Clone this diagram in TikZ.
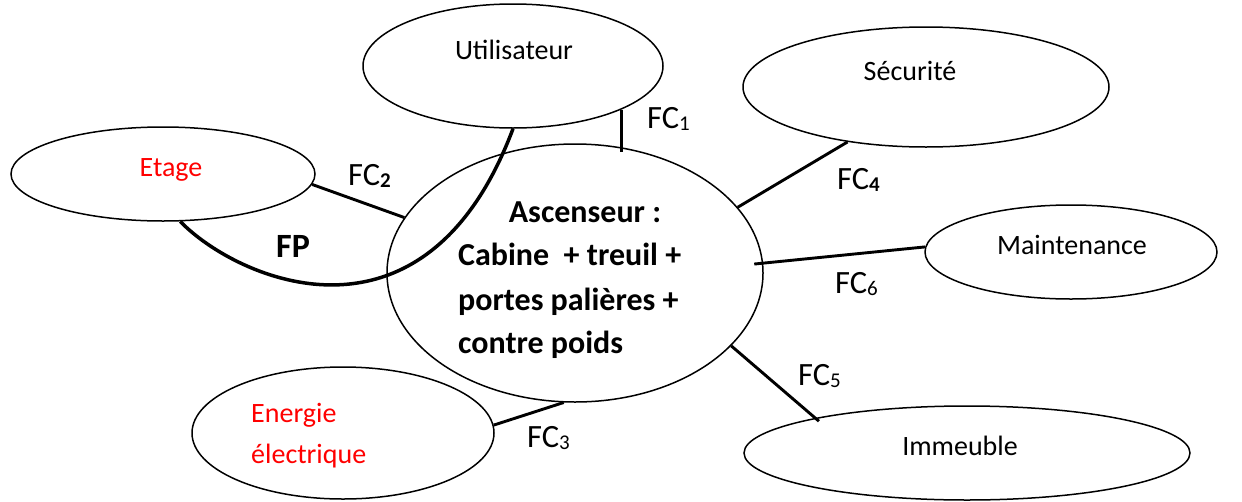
\documentclass[tikz,border=0pt]{standalone}
\usepackage{fontspec}
\setmainfont{Carlito}
\usetikzlibrary{shapes.geometric}
\tikzset{
 oval/.style={ellipse, draw, line width=1.5pt, inner sep=0pt},
 link/.style={line width=2.9pt},
 fpline/.style={line width=3.5pt},
 lbl/.style={inner sep=0pt, font=\fontsize{28}{34}\selectfont},
 fclbl/.style={inner sep=0pt, anchor=base west, font=\fontsize{32.5}{38}\selectfont},
 asc/.style={inner sep=0pt, font=\fontsize{32}{38}\selectfont\bfseries},
}
\newcommand{\fcsub}[1]{\raisebox{-2pt}{\fontsize{21}{21}\selectfont #1}}
\begin{document}
\begin{tikzpicture}[x=1pt,y=-1pt]
\useasboundingbox (0,0) rectangle (1242,501);
% ellipses
\node[oval, minimum width=300pt, minimum height=124pt] (u) at (513,66) {};
\node[oval, minimum width=376pt, minimum height=258pt] (c) at (575,273) {};
\node[oval, minimum width=304pt, minimum height=94pt] (e) at (163,174) {};
\node[oval, minimum width=366pt, minimum height=120pt] (s) at (926,87) {};
\node[oval, minimum width=292pt, minimum height=94pt] (m) at (1071,252) {};
\node[oval, minimum width=446pt, minimum height=94pt] (i) at (967,453) {};
\node[oval, minimum width=302pt, minimum height=132pt] (g) at (343,433) {};
% connectors
\draw[link, shorten >=-5pt] (u.-22) -- (u.-22 |- c.70);
\draw[link] (e.-4) -- (c.162.5);
\draw[link] (c.22) -- (s.-145);
\draw[link, shorten <=-9pt] (c.3) -- (m.178);
\draw[link, shorten >=-5pt] (c.-25) -- (i.167.5);
\draw[link] (g.3) -- (c.-95);
\draw[fpline] (e.-70) .. controls (237,280) and (425,363) .. (u.south);
% texts
\node[lbl, anchor=base] (tu) at (514,59) {Utilisateur};
\node[lbl, anchor=base, text=red] (te) at (171,176) {Etage};
\node[lbl, anchor=base] (ts) at (910,80) {Sécurité};
\node[lbl, anchor=base] (tm) at (1072,254) {Maintenance};
\node[lbl, anchor=base] (ti) at (960,455) {Immeuble};
\node[lbl, anchor=base west, text=red] (tg1) at (251,422) {Energie};
\node[lbl, anchor=base west, text=red] (tg2) at (251,463) {électrique};
\node[asc, anchor=base] (a1) at (585,222) {Ascenseur :};
\node[asc, anchor=base west] (a2) at (458,265) {Cabine\ \ + treuil +};
\node[asc, anchor=base west] (a3) at (458,310) {portes palières +};
\node[asc, anchor=base west] (a4) at (458,353) {contre poids};
\node[inner sep=0pt, anchor=base, font=\fontsize{34}{40}\selectfont\bfseries] (fp) at (293,257) {FP};
\node[fclbl] (f1) at (647,128) {FC\fcsub{1}};
\node[fclbl] (f2) at (348,185) {FC\fcsub{\textbf{2}}};
\node[fclbl] (f4) at (837,189) {FC\fcsub{\textbf{4}}};
\node[fclbl] (f6) at (835,293) {FC\fcsub{6}};
\node[fclbl] (f5) at (798,385) {FC\fcsub{5}};
\node[fclbl] (f3) at (527,447) {FC\fcsub{3}};
\end{tikzpicture}
\end{document}
